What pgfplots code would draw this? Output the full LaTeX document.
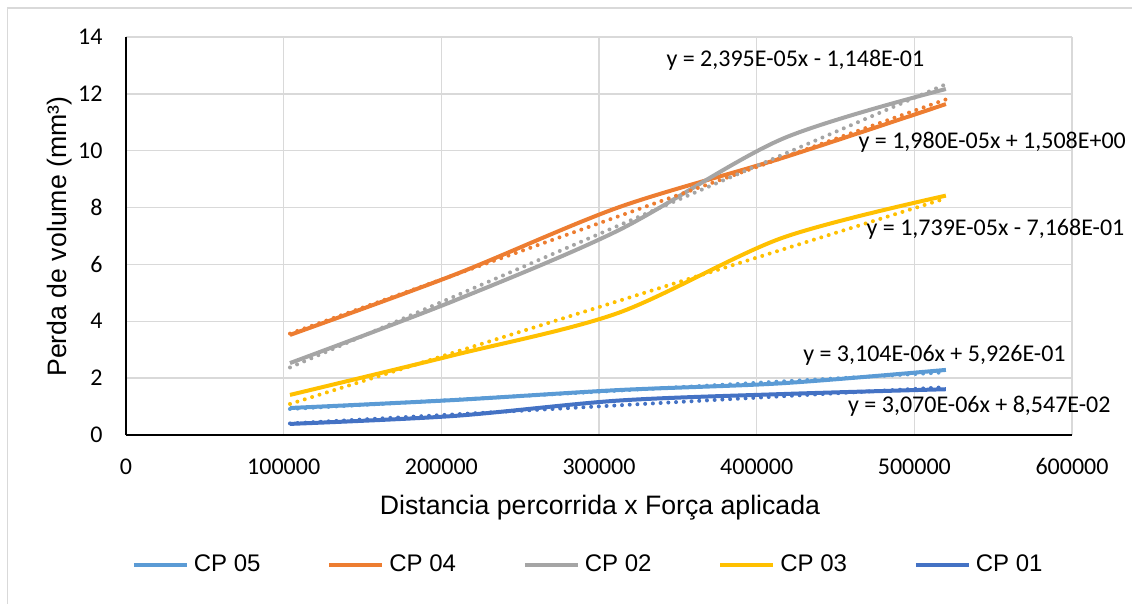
\documentclass[border=0pt]{standalone}
\usepackage{fontspec}
\setmainfont{Liberation Sans}
\newfontfamily\calibri{Carlito}
\usepackage{pgfplots}
\pgfplotsset{compat=1.18}
\definecolor{cpA}{HTML}{5B9BD5}
\definecolor{cpB}{HTML}{ED7D31}
\definecolor{cpC}{HTML}{A5A5A5}
\definecolor{cpD}{HTML}{FFC000}
\definecolor{cpE}{HTML}{4472C4}
\definecolor{gridc}{HTML}{D9D9D9}
\begin{document}
\begin{tikzpicture}
\useasboundingbox (0,0) rectangle (424.5pt,226.125pt);
\draw[gridc, line width=0.6pt] (2.75pt,-2pt) -- (2.75pt,223.1pt) -- (430pt,223.1pt);
\begin{axis}[
  at={(47.25pt,63pt)}, anchor=south west,
  width=354.75pt, height=149.25pt, scale only axis,
  xmin=0, xmax=600000, ymin=0, ymax=14,
  scaled x ticks=false, scaled y ticks=false,
  axis x line=bottom, axis y line=left,
  axis line style={black, line width=0.75pt, -},
  xtick={0,100000,200000,300000,400000,500000,600000},
  xticklabels={0,100000,200000,300000,400000,500000,600000},
  ytick={0,2,4,6,8,10,12,14},
  yticklabels={0,2,4,6,8,10,12,14},
  major tick length=0pt,
  grid=major,
  major grid style={gridc, line width=0.55pt},
  xticklabel style={font=\calibri\fontsize{9}{10}\selectfont, anchor=north, inner sep=0pt, yshift=-8.6pt},
  yticklabel style={font=\calibri\fontsize{9}{10}\selectfont, anchor=east, inner sep=0pt, xshift=-8.6pt},
  clip=false,
  legend columns=5,
  legend style={at={(0.0063,-0.3266)}, anchor=west, draw=none, fill=none, inner sep=0pt, outer sep=0pt,
    font=\fontsize{9}{10}\selectfont,
    /tikz/every even column/.append style={column sep=23.2pt},
    nodes={inner sep=1.9pt}},
  legend cell align=left,
  legend image code/.code={\draw[#1, line width=1.5pt] (0pt,0pt) -- (19.8pt,0pt);},
  every axis plot/.append style={line width=1.5pt},
]
\addplot[cpA, smooth] coordinates {(104000,0.95) (208000,1.23) (312000,1.58) (416000,1.82) (520000,2.29)};
\addlegendentry{CP 05}
\addplot[cpB, smooth] coordinates {(104000,3.52) (208000,5.63) (312000,8.0) (416000,9.74) (520000,11.64)};
\addlegendentry{CP 04}
\addplot[cpC, smooth] coordinates {(104000,2.53) (208000,4.72) (312000,7.19) (416000,10.41) (520000,12.17)};
\addlegendentry{CP 02}
\addplot[cpD, smooth] coordinates {(104000,1.41) (208000,2.81) (312000,4.29) (416000,6.93) (520000,8.42)};
\addlegendentry{CP 03}
\addplot[cpE, smooth] coordinates {(104000,0.39) (208000,0.67) (312000,1.21) (416000,1.44) (520000,1.61)};
\addlegendentry{CP 01}
% trendlines
\addplot[cpA, forget plot, line cap=round, dash pattern=on 0pt off 2.9pt] coordinates {(104000,0.915) (520000,2.207)};
\addplot[cpB, forget plot, line cap=round, dash pattern=on 0pt off 2.9pt] coordinates {(104000,3.567) (520000,11.804)};
\addplot[cpC, forget plot, line cap=round, dash pattern=on 0pt off 2.9pt] coordinates {(104000,2.376) (520000,12.339)};
\addplot[cpD, forget plot, line cap=round, dash pattern=on 0pt off 2.9pt] coordinates {(104000,1.092) (520000,8.326)};
\addplot[cpE, forget plot, line cap=round, dash pattern=on 0pt off 2.9pt] coordinates {(104000,0.405) (520000,1.682)};
% trendline equations
\begin{scope}[every node/.style={font=\calibri\fontsize{9}{10}\selectfont, anchor=base west, inner sep=0pt}]
\node at (axis cs:342500,12.95) {y = 2,395E-05x - 1,148E-01};
\node at (axis cs:464300,10.08) {y = 1,980E-05x + 1,508E+00};
\node at (axis cs:469400,7.03) {y = 1,739E-05x - 7,168E-01};
\node at (axis cs:429200,2.58) {y = 3,104E-06x + 5,926E-01};
\node at (axis cs:457700,0.786) {y = 3,070E-06x + 8,547E-02};
\end{scope}
\node[anchor=base, inner sep=0pt, font=\fontsize{10}{12}\selectfont] at (axis description cs:0.501,-0.1985) {Distancia percorrida x Força aplicada};
\node[anchor=base, rotate=90, inner sep=0pt, font=\fontsize{10}{12}\selectfont] at (axis description cs:-0.0624,0.4985) {Perda de volume (mm³)};
\end{axis}
\end{tikzpicture}
\end{document}
